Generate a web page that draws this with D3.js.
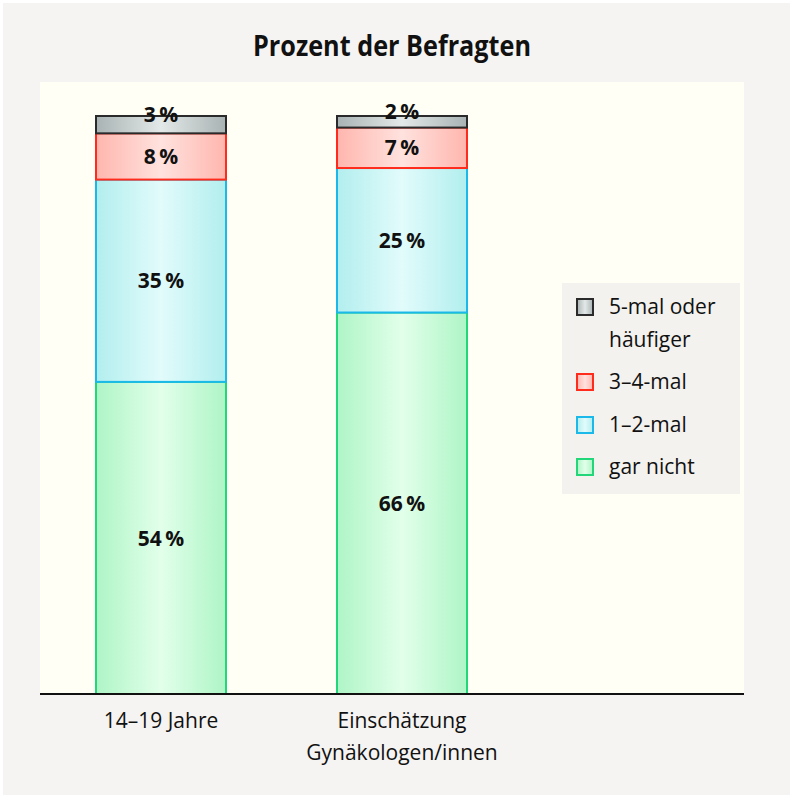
<!DOCTYPE html>
<html><head><meta charset="utf-8">
<script src="https://cdn.jsdelivr.net/npm/d3@7"></script>
<style>
html,body{margin:0;padding:0;background:#fff;}
svg{display:block;}
text{font-family:"Open Sans",sans-serif;}
</style></head>
<body>
<script>
const categories = ["14–19 Jahre", "Einschätzung\nGynäkologen/innen"];
const seriesNames = ["gar nicht", "1–2-mal", "3–4-mal", "5-mal oder\nhäufiger"];
const garNicht = [54, 66];
const einZweiMal = [35, 25];
const dreiVierMal = [8, 7];
const fuenfMal = [3, 2];
const title = "Prozent der Befragten";

const seriesValues = [garNicht, einZweiMal, dreiVierMal, fuenfMal];
const styles = [
  {edge:"#aef5c6", mid:"#e2ffea", stroke:"#22d67a"},
  {edge:"#b2eeee", mid:"#e2fbfb", stroke:"#1ab9ea"},
  {edge:"#ffb6ae", mid:"#ffe2de", stroke:"#ff2b1c"},
  {edge:"#a9b3b3", mid:"#e3e8e8", stroke:"#2a2a2a"}
];

const W = 793, H = 800;
const svg = d3.select("body").append("svg").attr("width", W).attr("height", H);
const defs = svg.append("defs");
styles.forEach((s,i)=>{
  const g = defs.append("linearGradient").attr("id","g"+i).attr("x1","0").attr("x2","1").attr("y1","0").attr("y2","0");
  g.append("stop").attr("offset","0").attr("stop-color",s.edge);
  g.append("stop").attr("offset","0.5").attr("stop-color",s.mid);
  g.append("stop").attr("offset","1").attr("stop-color",s.edge);
});

svg.append("rect").attr("x",3).attr("y",3).attr("width",787).attr("height",792).attr("fill","#f5f4f2");

const plot = {left:40, right:744, top:82, bottom:694};
svg.append("rect").attr("x",plot.left).attr("y",plot.top).attr("width",plot.right-plot.left).attr("height",plot.bottom-plot.top).attr("fill","#fffff6");

svg.append("text").attr("x",392).attr("y",56).attr("text-anchor","middle")
  .attr("font-size",29).attr("font-weight","bold").attr("fill","#111")
  .attr("textLength",278).attr("lengthAdjust","spacingAndGlyphs").text(title);

const y = d3.scaleLinear().domain([0,100]).range([plot.bottom,116]);

const stackData = categories.map((c,ci)=>{
  const o = {cat:c};
  seriesValues.forEach((v,si)=>o["s"+si]=v[ci]);
  return o;
});
const stack = d3.stack().keys(seriesValues.map((_,i)=>"s"+i))(stackData);

const bx = d3.scalePoint().domain(categories).range([161, 402]);
const bw = 130;

stack.forEach((layer,si)=>{
  const g = svg.append("g");
  layer.forEach((d,ci)=>{
    const cx = bx(categories[ci]);
    g.append("rect").attr("x",cx-bw/2).attr("y",y(d[1])).attr("width",bw).attr("height",y(d[0])-y(d[1]))
      .attr("fill","url(#g"+si+")").attr("stroke",styles[si].stroke).attr("stroke-width",2);
  });
});
stack.forEach((layer,si)=>{
  layer.forEach((d,ci)=>{
    const cx = bx(categories[ci]);
    const v = d[1]-d[0];
    let ym = (y(d[0])+y(d[1]))/2;
    if (v < 5) ym -= 10;
    svg.append("text").attr("x",cx).attr("y",ym).attr("dy","0.36em").attr("text-anchor","middle")
      .attr("font-size",21).attr("font-weight","bold").attr("fill","#111").text(v+"\u2009%");
  });
});

svg.append("line").attr("x1",plot.left).attr("x2",plot.right).attr("y1",plot.bottom).attr("y2",plot.bottom)
  .attr("stroke","#111").attr("stroke-width",2);

categories.forEach(c=>{
  const lines = c.split("\n");
  const t = svg.append("text").attr("x",bx(c)).attr("y",728).attr("text-anchor","middle").attr("font-size",21).attr("fill","#111");
  lines.forEach((l,i)=>t.append("tspan").attr("x",bx(c)).attr("dy",i?32:0).text(l));
});

// legend
const lg = svg.append("g");
lg.append("rect").attr("x",562).attr("y",283).attr("width",178).attr("height",211).attr("fill","#f3f2ee");
const legendItems = [3,2,1,0];
const legendY = [307, 382, 425, 467];
legendItems.forEach((si,k)=>{
  const yy = legendY[k];
  lg.append("rect").attr("x",577).attr("y",yy-8).attr("width",16).attr("height",16)
    .attr("fill","url(#g"+si+")").attr("stroke",styles[si].stroke).attr("stroke-width",2);
  const lines = seriesNames[si].split("\n");
  const t = lg.append("text").attr("x",609).attr("y",yy).attr("font-size",21).attr("fill","#111");
  lines.forEach((l,i)=>t.append("tspan").attr("x",609).attr("dy",i?33:"0.35em").text(l));
});
</script>
</body></html>
